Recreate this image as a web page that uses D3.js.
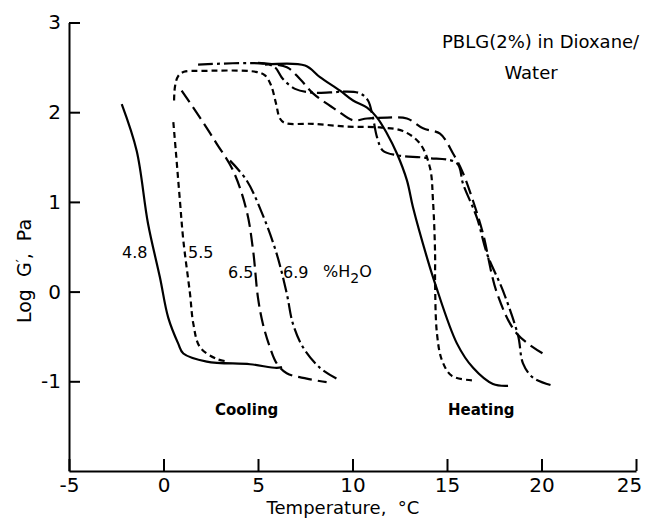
<!DOCTYPE html>
<html>
<head>
<meta charset="utf-8">
<script src="https://cdn.jsdelivr.net/npm/d3@7"></script>
<style>
  html, body { margin: 0; padding: 0; background: #fff; }
  svg { display: block; }
  text { font-family: "DejaVu Sans", sans-serif; fill: #000; }
</style>
</head>
<body>
<svg id="chart" width="646" height="526"></svg>
<script>
// ---- Data (Temperature °C, log G' Pa) ----
const xTicks = [-5, 0, 5, 10, 15, 20, 25];
const yTicks = [-1, 0, 1, 2, 3];
const compositions = ["4.8", "5.5", "6.5", "6.9"];

// Cooling curves
const cool48 = [[-2.21,2.09],[-1.42,1.57],[-0.82,0.76],[-0.19,0.16],[0.25,-0.29],[0.78,-0.58],[1.05,-0.69],[2.29,-0.78],[4.58,-0.81],[5.99,-0.85],[6.27,-0.84]];
const cool55 = [[0.52,1.89],[0.65,1.57],[0.87,1.01],[1.05,0.57],[1.40,-0.02],[1.58,-0.36],[1.93,-0.62],[2.81,-0.75],[3.43,-0.78]];
const cool65 = [[0.96,2.24],[1.93,1.94],[2.81,1.65],[3.68,1.35],[4.40,0.90],[4.74,0.46],[5.00,-0.07],[5.26,-0.36],[5.63,-0.62],[5.99,-0.80],[6.52,-0.91],[7.58,-0.97],[8.63,-1.01]];
const cool69 = [[3.52,1.46],[4.40,1.24],[5.26,0.85],[5.99,0.42],[6.52,-0.02],[6.85,-0.36],[7.38,-0.62],[8.28,-0.85],[9.16,-0.97]];

// Heating curves
const heat48 = [[5.37,2.53],[7.49,2.52],[8.28,2.39],[9.34,2.24],[10.03,2.13],[10.77,2.05],[11.30,1.94],[11.83,1.76],[12.35,1.54],[12.88,1.24],[13.20,0.94],[13.94,0.38],[14.37,0.09],[15.53,-0.58],[16.38,-0.85],[17.43,-1.03],[18.23,-1.05]];
const heat55 = [[0.56,2.13],[0.61,2.29],[0.77,2.40],[1.08,2.45],[1.93,2.46],[4.89,2.45],[5.37,2.41],[5.69,2.30],[5.95,2.10],[6.16,1.93],[6.43,1.88],[7.90,1.87],[9.71,1.84],[11.46,1.83],[12.67,1.79],[13.57,1.65],[14.10,1.38],[14.26,1.01],[14.37,0.42],[14.37,0.09],[14.47,-0.47],[14.74,-0.77],[15.26,-0.94],[16.37,-0.99]];
const heat65 = [[5.00,2.55],[6.53,2.50],[7.22,2.37],[7.91,2.21],[9.18,2.02],[10.03,1.91],[10.77,1.93],[11.83,1.94],[12.88,1.93],[13.73,1.82],[14.63,1.76],[15.32,1.54],[15.85,1.32],[16.38,1.01],[16.90,0.65],[17.65,-0.02],[18.70,-0.47],[20.07,-0.69]];
const heat69 = [[1.83,2.53],[5.37,2.54],[5.90,2.50],[6.32,2.37],[6.96,2.26],[7.75,2.22],[8.81,2.22],[9.60,2.23],[10.40,2.21],[10.82,2.13],[11.08,1.94],[11.30,1.72],[11.61,1.57],[12.35,1.52],[13.94,1.49],[15.53,1.43],[15.85,1.20],[16.59,0.82],[17.12,0.42],[17.96,0.01],[18.76,-0.49],[19.02,-0.80],[19.55,-0.96],[20.61,-1.05]];

// ---- Chart ----
const svg = d3.select("#chart");
svg.append("rect").attr("width", 646).attr("height", 526).attr("fill", "#fff");

const x = d3.scaleLinear().domain([-5, 25]).range([69, 636]);
const y = d3.scaleLinear().domain([-2, 3]).range([471, 22.5]);

const dashes = {
  "4.8": null,
  "5.5": "6,4",
  "6.5": "14,6",
  "6.9": "15,4,3,4"
};

const series = [
  {comp: "4.8", pts: cool48}, {comp: "5.5", pts: cool55},
  {comp: "6.5", pts: cool65}, {comp: "6.9", pts: cool69},
  {comp: "4.8", pts: heat48}, {comp: "5.5", pts: heat55},
  {comp: "6.5", pts: heat65}, {comp: "6.9", pts: heat69}
];

const line = d3.line()
  .x(d => x(d[0]))
  .y(d => y(d[1]))
  .curve(d3.curveCatmullRom.alpha(0.5));

svg.append("g").selectAll("path").data(series).join("path")
  .attr("d", d => line(d.pts))
  .attr("fill", "none")
  .attr("stroke", "#000")
  .attr("stroke-width", 2.2)
  .attr("stroke-dasharray", d => dashes[d.comp]);

// Axes
const xAxis = d3.axisBottom(x).tickValues(xTicks).tickSizeInner(-12).tickSizeOuter(0).tickPadding(7)
  .tickFormat(d => String(d));
const yAxis = d3.axisLeft(y).tickValues(yTicks).tickSizeInner(-11).tickSizeOuter(0).tickPadding(8)
  .tickFormat(d => String(d));

const gx = svg.append("g").attr("transform", `translate(0,${y(-2)})`).call(xAxis);
const gy = svg.append("g").attr("transform", `translate(${x(-5)},0)`).call(yAxis);
[gx, gy].forEach(g => {
  g.select(".domain").attr("stroke", "#000").attr("stroke-width", 2);
  g.selectAll(".tick line").attr("stroke", "#000").attr("stroke-width", 2);
  g.selectAll(".tick text").attr("font-family", "DejaVu Sans, sans-serif").attr("font-size", 20).attr("fill", "#000");
});
// keep the last x label inside the picture, as in the reference
gx.selectAll(".tick text").filter(d => d === 25).attr("dx", -7);

// Axis titles
svg.append("text").attr("x", 343).attr("y", 514).attr("text-anchor", "middle")
  .attr("font-size", 18).style("white-space", "pre").text("Temperature,  °C");
const yl = svg.append("text").attr("transform", "translate(31,271) rotate(-90)")
  .attr("text-anchor", "middle").attr("font-size", 19).style("white-space", "pre");
yl.append("tspan").text("Log  G");
yl.append("tspan").attr("dy", -6).attr("font-size", 13).text("′");
yl.append("tspan").attr("dy", 6).text(",  Pa");

// Title
svg.append("text").attr("x", 442).attr("y", 48).attr("font-size", 18).text("PBLG(2%) in Dioxane/");
svg.append("text").attr("x", 531).attr("y", 79).attr("text-anchor", "middle").attr("font-size", 18).text("Water");

// Curve labels
const labelPos = {"4.8": [122, 258], "5.5": [188, 258], "6.5": [228, 278], "6.9": [283, 278]};
svg.append("g").selectAll("text").data(compositions).join("text")
  .attr("x", d => labelPos[d][0]).attr("y", d => labelPos[d][1])
  .attr("font-size", 16).text(d => d);

const h2o = svg.append("text").attr("x", 323).attr("y", 277).attr("font-size", 16);
h2o.append("tspan").text("%H");
h2o.append("tspan").attr("dy", 6).attr("font-size", 14).text("2");
h2o.append("tspan").attr("dy", -6).text("O");

svg.append("text").attr("x", 215).attr("y", 415).attr("font-size", 15).attr("font-weight", "bold").text("Cooling");
svg.append("text").attr("x", 448).attr("y", 415).attr("font-size", 15).attr("font-weight", "bold").text("Heating");
</script>
</body>
</html>
